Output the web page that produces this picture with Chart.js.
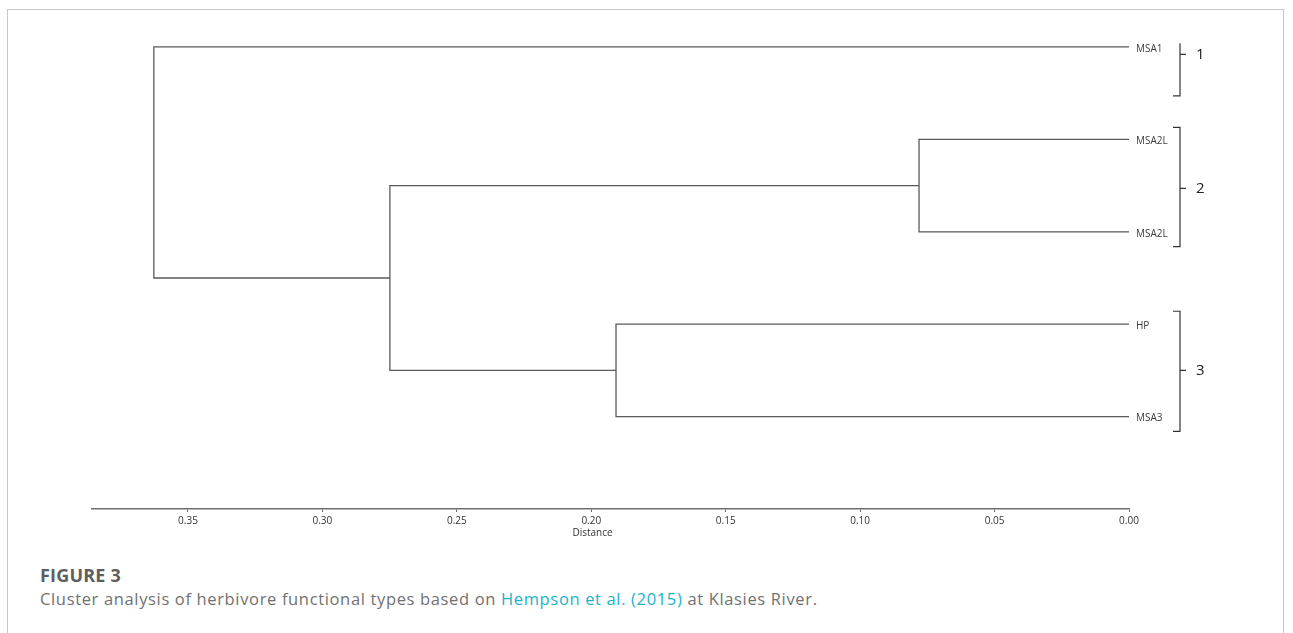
<!DOCTYPE html>
<html>
<head>
<meta charset="utf-8">
<script src="https://cdn.jsdelivr.net/npm/chart.js@4.4.1/dist/chart.umd.min.js"></script>
<style>
  html, body { margin: 0; padding: 0; background: #fff; }
  body { width: 1293px; height: 633px; position: relative; overflow: hidden; font-family: "Open Sans", sans-serif; }
  .frame { position: absolute; left: 7px; top: 9px; width: 1277px; height: 660px; border: 1px solid #c6c6c6; box-sizing: border-box; }
  .plot { position: absolute; left: 0; top: 0; width: 1293px; height: 560px; }
  .fig-label { position: absolute; left: 40px; top: 563px; font-size: 18px; font-weight: 700; color: #5e5e5e; letter-spacing: 0.2px; }
  .fig-caption { position: absolute; left: 40px; top: 587px; font-size: 16.5px; color: #717171; white-space: nowrap; letter-spacing: 0.65px; }
  .fig-caption a { color: #1ab3c8; text-decoration: none; }
</style>
</head>
<body>
<div class="frame"></div>
<div class="plot"><canvas id="dendro" width="1293" height="560"></canvas></div>
<div class="fig-label">FIGURE 3</div>
<div class="fig-caption">Cluster analysis of herbivore functional types based on <a>Hempson et al. (2015)</a> at Klasies River.</div>

<script>
// Leaves of the tree, top to bottom
const leafNames = ['MSA1', 'MSA2L', 'MSA2L', 'HP', 'MSA3'];
const leafRows = [0, 1, 2, 3, 4];

// Agglomeration steps: two members (leaf index or earlier step as 's#') and the joining distance
const mergeLeft = [1, 3, 's0', 0];
const mergeRight = [2, 4, 's1', 's2'];
const mergeDistance = [0.0781, 0.1908, 0.2749, 0.3627];

// Axis ticks
const distanceTicks = [0.00, 0.05, 0.10, 0.15, 0.20, 0.25, 0.30, 0.35];
const distanceMax = 0.3857;

// Cluster brackets on the right (row units)
const clusterNames = ['1', '2', '3'];
const clusterTop = [-0.04, 0.87, 2.86];
const clusterBottom = [0.53, 2.16, 4.16];
const clusterMid = [0.08, 1.53, 3.50];
const clusterTopHook = [false, true, true];

// Resolve each merge member to its (distance, row) position
const nodes = [];
function memberPos(m) {
  if (typeof m === 'string') return nodes[parseInt(m.slice(1), 10)];
  return { x: 0, y: leafRows[m] };
}
const linkSets = mergeDistance.map((h, i) => {
  const a = memberPos(mergeLeft[i]);
  const b = memberPos(mergeRight[i]);
  nodes.push({ x: h, y: (a.y + b.y) / 2 });
  return {
    data: [{ x: a.x, y: a.y }, { x: h, y: a.y }, { x: h, y: b.y }, { x: b.x, y: b.y }],
    showLine: true,
    borderColor: '#5a5a5a',
    borderWidth: 1.3,
    pointRadius: 0,
    tension: 0,
    fill: false
  };
});

const LINE_FONT = '"Open Sans", sans-serif';

// Leaf names, cluster brackets and the axis title
const annotate = {
  id: 'annotate',
  afterDraw(chart) {
    const { ctx, chartArea, scales } = chart;
    const y = scales.y, x = scales.x;
    ctx.save();
    // leaf names
    ctx.fillStyle = '#3c3c3c';
    ctx.font = '10px ' + LINE_FONT;
    ctx.textBaseline = 'middle';
    ctx.textAlign = 'left';
    leafNames.forEach((n, i) => {
      ctx.fillText(n, chartArea.right + 7, y.getPixelForValue(leafRows[i]) + 2);
    });
    // brackets
    const bx = chartArea.right + 51;
    ctx.strokeStyle = '#333';
    ctx.lineWidth = 1.2;
    clusterNames.forEach((name, i) => {
      const t = y.getPixelForValue(clusterTop[i]);
      const b = y.getPixelForValue(clusterBottom[i]);
      const m = y.getPixelForValue(clusterMid[i]);
      ctx.beginPath();
      if (clusterTopHook[i]) { ctx.moveTo(bx - 7, t); ctx.lineTo(bx, t); } else { ctx.moveTo(bx, t); }
      ctx.lineTo(bx, b);
      ctx.lineTo(bx - 7, b);
      ctx.moveTo(bx, m);
      ctx.lineTo(bx + 6, m);
      ctx.stroke();
      ctx.fillStyle = '#222';
      ctx.font = '15px ' + LINE_FONT;
      ctx.fillText(name, bx + 16, m);
    });
    // axis title
    ctx.fillStyle = '#333';
    ctx.font = '10px ' + LINE_FONT;
    ctx.textAlign = 'center';
    ctx.textBaseline = 'middle';
    ctx.fillText('Distance', (x.left + x.right) / 2 - 18, x.top + 24);
    ctx.restore();
  }
};

new Chart(document.getElementById('dendro'), {
  type: 'scatter',
  data: { datasets: linkSets },
  options: {
    responsive: false,
    animation: false,
    devicePixelRatio: 1,
    layout: { padding: { left: 92, right: 164, top: 10, bottom: 13 } },
    plugins: { legend: { display: false }, tooltip: { enabled: false } },
    scales: {
      x: {
        type: 'linear',
        reverse: true,
        min: 0,
        max: distanceMax,
        afterBuildTicks(scale) { scale.ticks = distanceTicks.map(v => ({ value: v })); },
        afterFit(scale) { scale.height = 38; },
        grid: { display: true, drawOnChartArea: false, drawTicks: true, tickLength: 3, color: '#6e6e6e', lineWidth: 1 },
        border: { display: true, color: '#6e6e6e', width: 1.5 },
        ticks: {
          padding: 3,
          color: '#333',
          font: { family: 'Open Sans', size: 10 },
          maxRotation: 0,
          autoSkip: false,
          callback: v => Number(v).toFixed(2)
        }
      },
      y: {
        type: 'linear',
        reverse: true,
        min: -0.4,
        max: 5.0,
        display: false
      }
    }
  },
  plugins: [annotate]
});
</script>
</body>
</html>
